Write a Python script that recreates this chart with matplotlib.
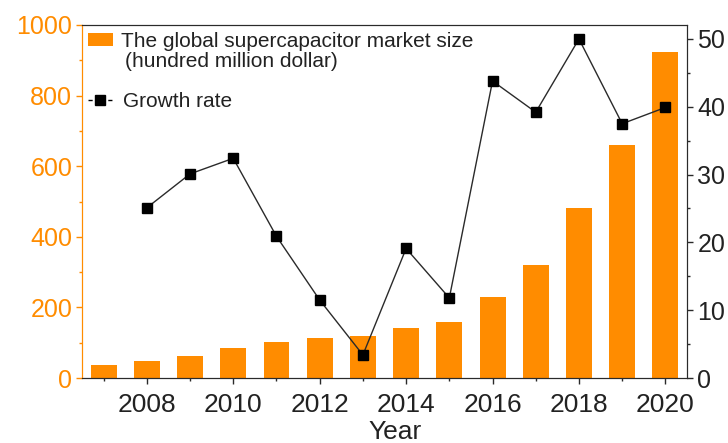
import matplotlib
matplotlib.use("Agg")
import matplotlib.pyplot as plt
from matplotlib.ticker import MultipleLocator
from matplotlib.patches import Patch
from matplotlib.lines import Line2D

plt.rcParams['font.family'] = ['Liberation Sans', 'DejaVu Sans']

years = [2007, 2008, 2009, 2010, 2011, 2012, 2013, 2014, 2015, 2016, 2017, 2018, 2019, 2020]
market_size = [38, 48, 63, 84, 102, 114, 118, 141, 160, 230, 320, 481, 661, 923]
growth_years = [2008, 2009, 2010, 2011, 2012, 2013, 2014, 2015, 2016, 2017, 2018, 2019, 2020]
growth_rate = [25.1, 30.1, 32.4, 20.9, 11.5, 3.4, 19.1, 11.8, 43.8, 39.2, 50.0, 37.5, 39.9]

orange = '#FF8C00'
dark = '#2a2a2a'

fig = plt.figure(figsize=(7.28, 4.43), dpi=100)
ax = fig.add_axes([82 / 728, 1 - 378 / 443, (687 - 82) / 728, (378 - 25) / 443])
ax2 = ax.twinx()

ax.bar(years, market_size, width=0.6, color=orange, zorder=2)
ax2.plot(growth_years, growth_rate, color=dark, lw=1.0, marker='s',
         markersize=6.5, markerfacecolor='black', markeredgecolor='black', zorder=3)

ax.set_xlim(2006.5, 2020.5)
ax.set_ylim(0, 1000)
ax2.set_ylim(0, 52.06)

ax.xaxis.set_major_locator(MultipleLocator(2))
ax.xaxis.set_minor_locator(MultipleLocator(1))
ax.yaxis.set_major_locator(MultipleLocator(200))
ax.yaxis.set_minor_locator(MultipleLocator(100))
ax2.yaxis.set_major_locator(MultipleLocator(10))
ax2.yaxis.set_minor_locator(MultipleLocator(5))

ax.tick_params(axis='x', which='major', direction='out', length=4.5, width=1,
               labelsize=19, colors=dark, labelcolor='#222222', pad=6)
ax.tick_params(axis='x', which='minor', direction='out', length=2.5, width=1, colors=dark)
ax.tick_params(axis='y', which='major', direction='out', length=4.5, width=1,
               labelsize=18, colors=orange, pad=2.5)
ax.tick_params(axis='y', which='minor', direction='out', length=2.5, width=1, colors=orange)
ax2.tick_params(axis='y', which='major', direction='out', length=4.5, width=1,
                labelsize=18, colors=dark, labelcolor='#222222', pad=3)
ax2.tick_params(axis='y', which='minor', direction='out', length=2.5, width=1, colors=dark)

for a in (ax, ax2):
    a.spines['left'].set_color(orange)
    a.spines['right'].set_color(dark)
    a.spines['top'].set_color(dark)
    a.spines['bottom'].set_color(dark)

ax.set_xlabel('Year', fontsize=19, color='#222222', labelpad=2.5, x=0.517)

# Legend: market size entry (two text lines, patch beside the first line)
bar_handles = [Patch(facecolor=orange, edgecolor='none'),
               Patch(facecolor='none', edgecolor='none')]
bar_labels = ['The global supercapacitor market size', '(hundred million dollar)']
leg1 = ax.legend(bar_handles, bar_labels, loc='upper left', frameon=False, fontsize=15,
                 handlelength=1.2, handleheight=0.58, handletextpad=0.4,
                 labelspacing=0.05, borderpad=0, borderaxespad=0,
                 bbox_to_anchor=(0.0099, 0.981))
for t in leg1.get_texts():
    t.set_color('#222222')
leg1.get_texts()[1].set_x(4)
ax.add_artist(leg1)

# Legend: growth rate entry, drawn as "-■-"
line_handle = Line2D([0], [0], color='black', lw=1, ls=(0, (3, 11.25)), marker='s',
                     markersize=7, markerfacecolor='black', markeredgecolor='black')
leg2 = ax.legend([line_handle], ['Growth rate'], loc='upper left', frameon=False,
                 fontsize=15, handlelength=1.15, handletextpad=0.55, borderpad=0,
                 borderaxespad=0, bbox_to_anchor=(0.0099, 0.810))
for t in leg2.get_texts():
    t.set_color('#222222')

fig.savefig('out.png', dpi=100)
